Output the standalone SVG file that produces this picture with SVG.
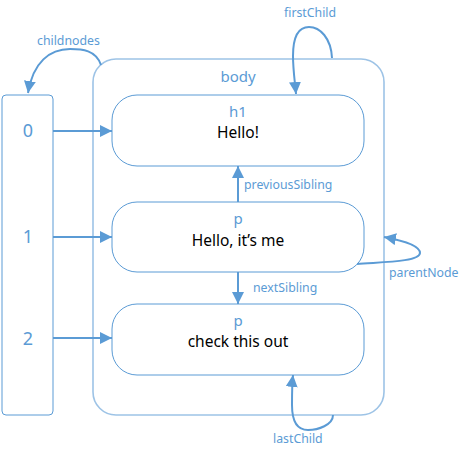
<svg xmlns="http://www.w3.org/2000/svg" width="468" height="457" viewBox="0 0 468 457">
<style>
text{font-family:"Noto Sans","Open Sans","DejaVu Sans",sans-serif}
.tag{fill:#5b9bd5;font-size:15px;text-anchor:middle}
.val{fill:#000;font-size:15.5px;text-anchor:middle}
.idx{fill:#5b9bd5;font-size:18px;text-anchor:middle}
.lbl{fill:#5b9bd5;font-size:12.3px}
.node{fill:#fff;stroke:#5b9bd5;stroke-width:1}
.body{fill:#fff;stroke:#9dc3e6;stroke-width:1.6}
.conn{fill:none;stroke:#5b9bd5;stroke-width:2}
</style>
<defs>
<marker id="ah" viewBox="0 0 12 12" refX="12" refY="6" markerWidth="12" markerHeight="12" markerUnits="userSpaceOnUse" orient="auto">
<path d="M0,0 L12,6 L0,12 z" fill="#5b9bd5"/>
</marker>
</defs>
<rect width="468" height="457" fill="#fff"/>
<g id="body">
<rect class="body" x="93" y="59" width="291" height="356" rx="23"/>
<text class="tag" x="238" y="82">body</text>
</g>
<g id="array">
<rect class="node" x="2" y="95" width="51" height="320" rx="4"/>
<text class="idx" x="28" y="137">0</text>
<text class="idx" x="28" y="243">1</text>
<text class="idx" x="28" y="345">2</text>
</g>
<g id="h1">
<rect class="node" x="112" y="95" width="252" height="71" rx="25"/>
<text class="tag" x="238" y="117">h1</text>
<text class="val" x="238" y="138">Hello!</text>
</g>
<g id="p1">
<rect class="node" x="112" y="202" width="252" height="70" rx="25"/>
<text class="tag" x="238" y="224">p</text>
<text class="val" x="238" y="246">Hello, it’s me</text>
</g>
<g id="p2">
<rect class="node" x="112" y="304" width="252" height="71" rx="25"/>
<text class="tag" x="238" y="326">p</text>
<text class="val" x="238" y="347">check this out</text>
</g>
<g id="connectors">
<line class="conn" x1="53" y1="131" x2="112" y2="131" marker-end="url(#ah)"/>
<line class="conn" x1="53" y1="237" x2="112" y2="237" marker-end="url(#ah)"/>
<line class="conn" x1="53" y1="338" x2="112" y2="338" marker-end="url(#ah)"/>
<line class="conn" x1="238" y1="202" x2="238" y2="166" marker-end="url(#ah)"/>
<line class="conn" x1="238" y1="272" x2="238" y2="304" marker-end="url(#ah)"/>
<path class="conn" d="M101,65 C96,50 82,49 70,49 C50,49 33,62 28,93" marker-end="url(#ah)"/>
<path class="conn" d="M332,58 C331,38 320,27 309,27 C296,27 293,40 293,56 C293,70 295,82 296,94" marker-end="url(#ah)"/>
<path class="conn" d="M333,415 C333,425 318,430 308,430 C295,430 292,418 292,405 C292,392 292,384 293,375" marker-end="url(#ah)"/>
<path class="conn" d="M357,264 C380,262 420,262 420,253 C420,245 400,240 384,237" marker-end="url(#ah)"/>
</g>
<g id="labels">
<text class="lbl" x="37" y="45">childnodes</text>
<text class="lbl" x="284" y="17">firstChild</text>
<text class="lbl" x="244" y="189">previousSibling</text>
<text class="lbl" x="253" y="292">nextSibling</text>
<text class="lbl" x="389" y="277">parentNode</text>
<text class="lbl" x="273" y="443">lastChild</text>
</g>
</svg>
